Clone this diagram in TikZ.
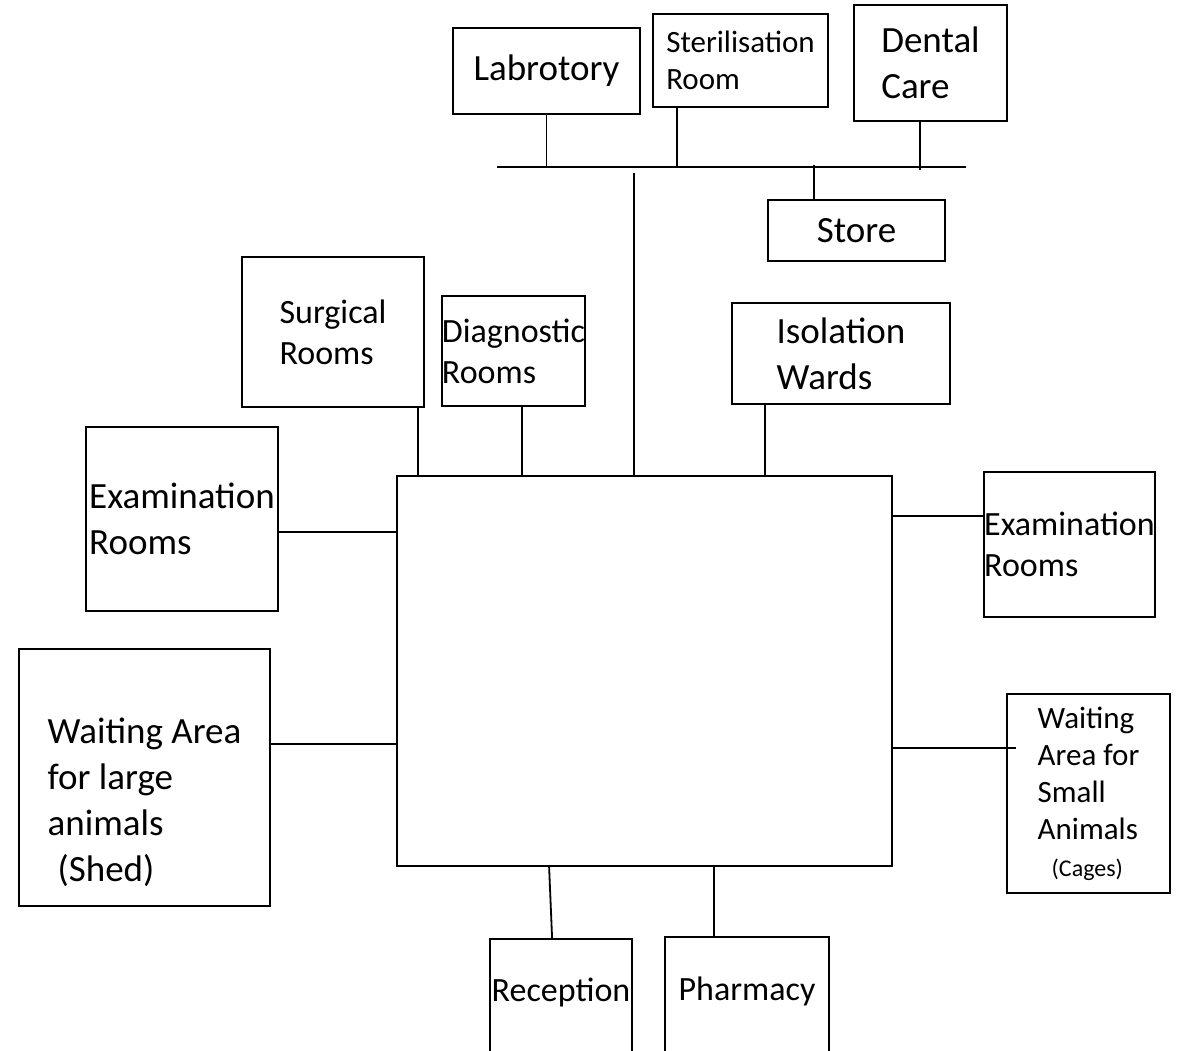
\documentclass[tikz,border=0pt]{standalone}
\usepackage{fontspec}
\setmainfont{Carlito}

\begin{document}
\begin{tikzpicture}[x=1pt, y=-1pt,
  room/.style={draw, line width=1.8pt, inner sep=0pt, align=left},
  bigfont/.style={font=\fontsize{37}{46}\selectfont},
  midfont/.style={font=\fontsize{34}{41}\selectfont},
  smallfont/.style={font=\fontsize{31}{37}\selectfont},
  wire/.style={line width=1.8pt}]
\clip (0,0) rectangle (1179,1051);
\fill[white] (0,0) rectangle (1179,1051);
% rooms along the top corridor
\node[room, bigfont, minimum width=187pt, minimum height=86pt] (lab) at (546.5,71) {Labrotory};
\node[room, smallfont, minimum width=175pt, minimum height=93pt] (steril) at (740.5,60.5) {Sterilisation\\Room};
\node[room, bigfont, minimum width=153pt, minimum height=116pt] (dental) at (930.5,63) {Dental\\Care};
\node[room, bigfont, minimum width=177pt, minimum height=61pt] (store) at (856.5,230.5) {Store};
% rooms above the hall
\node[room, midfont, minimum width=182pt, minimum height=150pt] (surgical) at (333,332) {Surgical\\Rooms};
\node[room, midfont, minimum width=139pt, minimum height=110pt] (diag) at (513.5,351) {Diagnostic\\Rooms};
\node[room, bigfont, minimum width=218pt, minimum height=101pt] (isol) at (841,353.5) {Isolation\\Wards};
% central hall
\node[room, minimum width=495pt, minimum height=390pt] (main) at (644.5,671) {};
% side rooms
\node[room, bigfont, minimum width=192pt, minimum height=184pt] (examL) at (182,519) {Examination\\Rooms};
\node[room, bigfont, minimum width=251pt, minimum height=257pt] (waitL) at (144.5,777.5) {\rule{0pt}{30pt}\\Waiting Area\\for large\\animals\\\hspace*{10pt}(Shed)};
\node[room, midfont, minimum width=167pt, minimum height=145pt] (examR) at (1069.5,544.5) {Examination\\Rooms};
\node[room, smallfont, minimum width=163pt, minimum height=199pt] (waitS) at (1088.5,793.5) {Waiting\\Area for\\Small\\Animals\\\hspace*{14pt}{\fontsize{24}{37}\selectfont(Cages)}};
% bottom rooms
\node[room, midfont, text depth=21pt, minimum width=142pt, minimum height=122pt] (recep) at (561,1000) {Reception};
\node[room, midfont, text depth=21pt, minimum width=164pt, minimum height=124pt] (pharm) at (747,999) {Pharmacy};

% corridor
\coordinate (busL) at (497,167);
\coordinate (busR) at (966,167);
\draw[wire] (busL) -- (busR);
\draw[wire] (lab.south) -- (lab.south |- busL);
\draw[wire] ([xshift=25pt]steril.south west) -- ([xshift=25pt]steril.south west |- busL);
\draw[wire] ([xshift=67pt]dental.south west) -- ([xshift=67pt,yshift=-3pt]dental.south west |- busL);
\draw[wire] ([xshift=47pt]store.north west) -- ([xshift=47pt,yshift=2pt]store.north west |- busL);
\draw[wire] ([xshift=238pt]main.north west) -- ([xshift=238pt,yshift=-6pt]main.north west |- busL);

% links to the hall
\draw[wire] ([xshift=22pt]main.north west) -- ([xshift=22pt]main.north west |- surgical.south);
\draw[wire] ([xshift=126pt]main.north west) -- ([xshift=126pt]main.north west |- diag.south);
\draw[wire] ([xshift=369pt]main.north west) -- ([xshift=369pt]main.north west |- isol.south);
\draw[wire] ([yshift=-57pt]main.north west) -- ([yshift=-57pt]main.north west -| examL.east);
\draw[wire] ([yshift=-269pt]main.north west) -- ([yshift=-269pt]main.north west -| waitL.east);
\draw[wire] ([yshift=-41pt]main.north east) -- ([yshift=-41pt]main.north east -| examR.west);
\draw[wire] ([yshift=-273pt]main.north east) -- ([xshift=10pt,yshift=-273pt]main.north east -| waitS.west);
\draw[wire] ([xshift=153pt]main.south west) -- ([xshift=63pt]recep.north west);
\draw[wire] ([xshift=318pt]main.south west) -- ([xshift=50pt]pharm.north west);
\end{tikzpicture}
\end{document}
